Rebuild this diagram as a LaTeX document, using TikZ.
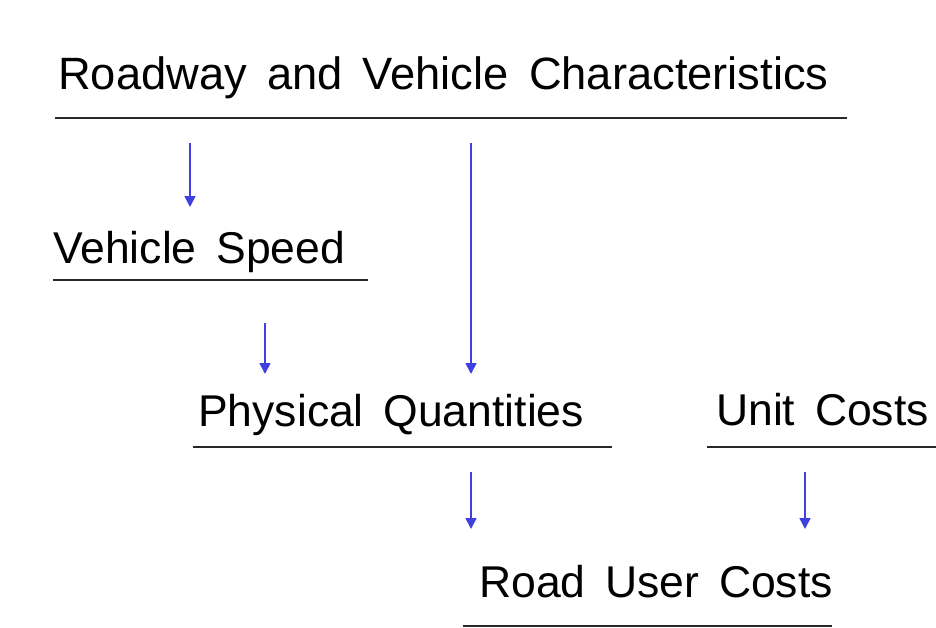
\documentclass[tikz,border=0pt]{standalone}
\usepackage{fontspec}
\setmainfont{Liberation Sans}[WordSpace=1.6]
\usetikzlibrary{arrows.meta}
\definecolor{flowblue}{RGB}{64,64,224}
\definecolor{rulegray}{RGB}{40,40,40}
\tikzset{
  label text/.style={anchor=base west, inner sep=0pt, text=black,
    font=\fontsize{44.5}{50}\selectfont},
  title text/.style={label text, font=\fontsize{45.3}{52}\selectfont},
  underline/.style={draw=rulegray, line width=1.8pt},
  flow/.style={draw=flowblue, line width=1.7pt,
    -{Triangle[width=11pt,length=11pt]}}
}
\begin{document}
\begin{tikzpicture}[x=1pt,y=-1pt]
  \useasboundingbox (0,0) rectangle (936,627);
  \fill[white] (0,0) rectangle (936,627);

  % headings
  \node[title text] (rvc) at (58,89)  {Roadway and Vehicle Characteristics};
  \node[label text] (vs)  at (53,263) {Vehicle Speed};
  \node[label text] (pq)  at (198,426) {Physical Quantities};
  \node[label text] (uc)  at (716,425) {Unit Costs};
  \node[label text] (ruc) at (479,597) {Road User Costs};

  % rules under each heading
  \draw[underline] (55,118) -- (847,118);
  \draw[underline] (53,280) -- (368,280);
  \draw[underline] (193,447) -- (612,447);
  \draw[underline] (707,447) -- (936,447);
  \draw[underline] (463,626) -- (832,626);

  % arrow end points
  \coordinate (a1s) at (190,143); \coordinate (a1e) at (190,207);
  \coordinate (a2s) at (471,143); \coordinate (a2e) at (471,374);
  \coordinate (a3s) at (265,323); \coordinate (a3e) at (265,374);
  \coordinate (a4s) at (471,472); \coordinate (a4e) at (471,529);
  \coordinate (a5s) at (805,472); \coordinate (a5e) at (805,529);

  \draw[flow] (a1s) -- (a1e);
  \draw[flow] (a2s) -- (a2e);
  \draw[flow] (a3s) -- (a3e);
  \draw[flow] (a4s) -- (a4e);
  \draw[flow] (a5s) -- (a5e);
\end{tikzpicture}
\end{document}
